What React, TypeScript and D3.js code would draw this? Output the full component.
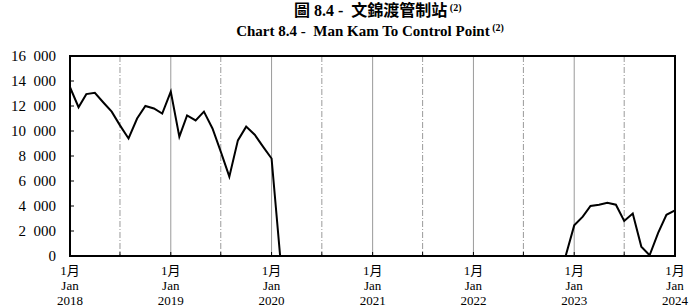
import * as React from "react";
import * as d3 from "d3";

// monthly values, Jan 2018 .. Jan 2024
const startMonth = new Date(2018, 0, 1);
const values2018 = [13500, 11900, 12950, 13050, 12300, 11550, 10450, 9400, 11000, 12000, 11800, 11400];
const values2019 = [13150, 9550, 11250, 10850, 11550, 10200, 8350, 6350, 9250, 10350, 9700, 8750];
const values2020 = [7800, 0, 0, 0, 0, 0, 0, 0, 0, 0, 0, 0];
const values2021 = [0, 0, 0, 0, 0, 0, 0, 0, 0, 0, 0, 0];
const values2022 = [0, 0, 0, 0, 0, 0, 0, 0, 0, 0, 0, 0];
const values2023 = [2450, 3150, 4000, 4100, 4250, 4100, 2800, 3400, 750, 60, 1850, 3300];
const values2024 = [3650];

const yTicks = [0, 2000, 4000, 6000, 8000, 10000, 12000, 14000, 16000];
const yearLabels = ["2018", "2019", "2020", "2021", "2022", "2023", "2024"];

const W = 690;
const H = 308;
const margin = { top: 56, right: 15, bottom: 52, left: 70 };

const serif = "'Liberation Serif', 'Times New Roman', serif";

export default function App() {
  const values = [...values2018, ...values2019, ...values2020, ...values2021, ...values2022, ...values2023, ...values2024];
  const data = values.map((v, i) => ({ date: d3.timeMonth.offset(startMonth, i), v }));
  const endMonth = data[data.length - 1].date;

  const x = d3.scaleTime().domain([startMonth, endMonth]).range([margin.left, W - margin.right]);
  const y = d3.scaleLinear().domain([0, 16000]).range([H - margin.bottom, margin.top]);

  const line = d3.line<{ date: Date; v: number }>()
    .x(d => x(d.date))
    .y(d => y(d.v));

  // thousands separated by a wide space, as in the original
  const fmt = (n: number) => d3.format(",")(n).replace(/,/g, "\u2002");

  const janDates = yearLabels.map(yr => new Date(+yr, 0, 1));
  const julDates = yearLabels.slice(0, -1).map(yr => new Date(+yr, 6, 1));
  const x0 = margin.left, x1 = W - margin.right;
  const y0 = H - margin.bottom, y1 = margin.top;

  return (
    <svg width={W} height={H} style={{ position: "absolute", left: 0, top: 0, background: "#fff" }}>
      <text x={294} y={16} fontFamily={`${serif}, 'Noto Sans CJK TC'`} fontWeight="bold" fontSize={16}>
        {"圖 8.4 -\u00a0 文錦渡管制站"}<tspan fontSize={10} dy={-5}>{"\u00a0(2)"}</tspan>
      </text>
      <text x={370} y={36} textAnchor="middle" fontFamily={serif} fontWeight="bold" fontSize={15}>
        {"Chart 8.4 -\u00a0 Man Kam To Control Point"}<tspan fontSize={10} dy={-5}>{"\u00a0(2)"}</tspan>
      </text>

      {/* gridlines */}
      {janDates.slice(1, -1).map((d, i) => (
        <line key={"j" + i} x1={x(d)} x2={x(d)} y1={y1} y2={y0} stroke="#9a9a9a" strokeWidth={1} />
      ))}
      {julDates.map((d, i) => (
        <line key={"l" + i} x1={x(d)} x2={x(d)} y1={y1} y2={y0} stroke="#9a9a9a" strokeWidth={1} strokeDasharray="6,2,1,2" />
      ))}

      {/* ticks */}
      {yTicks.map(t => (
        <line key={"yt" + t} x1={x0} x2={x0 + 4} y1={y(t)} y2={y(t)} stroke="#000" strokeWidth={1} />
      ))}
      {[...janDates, ...julDates].map((d, i) => (
        <line key={"xt" + i} x1={x(d)} x2={x(d)} y1={y0} y2={y0 - 4} stroke="#000" strokeWidth={1} />
      ))}

      <path d={line(data) ?? ""} fill="none" stroke="#000" strokeWidth={2} strokeLinejoin="miter" />

      <rect x={x0} y={y1} width={x1 - x0} height={y0 - y1} fill="none" stroke="#000" strokeWidth={2} />

      {yTicks.map(t => (
        <text key={"yl" + t} x={56} y={y(t) + 5} textAnchor="end" fontFamily={serif} fontSize={15}>
          {fmt(t)}
        </text>
      ))}

      {janDates.map((d, i) => (
        <g key={"xl" + i} fontFamily={`${serif}, 'Noto Sans CJK TC'`} fontSize={13} textAnchor="middle">
          <text x={x(d)} y={275}>1月</text>
          <text x={x(d)} y={290}>Jan</text>
          <text x={x(d)} y={305}>{yearLabels[i]}</text>
        </g>
      ))}
    </svg>
  );
}
